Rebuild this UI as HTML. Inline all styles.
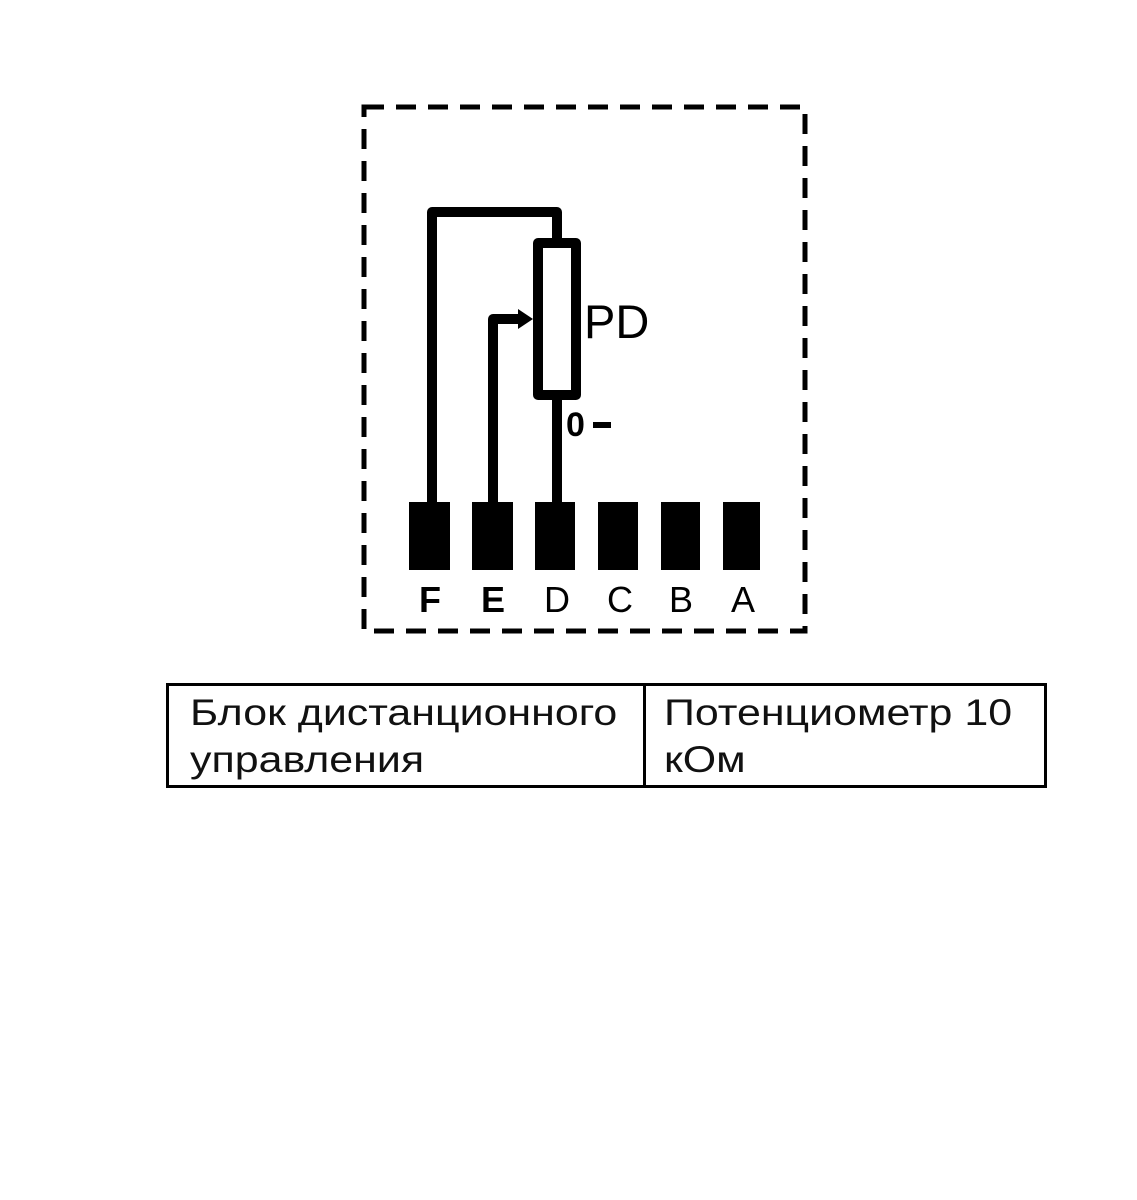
<!DOCTYPE html>
<html><head><meta charset="utf-8"><style>
html,body{margin:0;padding:0;background:#fff;}
body{width:1137px;height:1200px;position:relative;overflow:hidden;font-family:"Liberation Sans","DejaVu Sans",sans-serif;}
.t{position:absolute;font-size:37px;line-height:47px;color:#111;transform:scaleX(1.16);transform-origin:0 0;white-space:nowrap;}
</style></head><body>
<svg width="1137" height="1200" style="position:absolute;left:0;top:0">
<rect x="364" y="107" width="441" height="524" fill="none" stroke="#000" stroke-width="5" stroke-dasharray="20 12"/>
<g fill="none" stroke="#000" stroke-width="10" stroke-linejoin="round">
<polyline points="432,505 432,212 557,212 557,240"/>
<rect x="538" y="243" width="38" height="152"/>
<polyline points="557,395 557,505"/>
<polyline points="493,505 493,319 522,319"/>
</g>
<polygon points="518,309 533,319 518,329" fill="#000"/>
<g fill="#000">
<rect x="409" y="502" width="41" height="68"/>
<rect x="472" y="502" width="41" height="68"/>
<rect x="535" y="502" width="40" height="68"/>
<rect x="598" y="502" width="40" height="68"/>
<rect x="661" y="502" width="39" height="68"/>
<rect x="723" y="502" width="37" height="68"/>
</g>
<g font-family="Liberation Sans, sans-serif" fill="#000">
<text x="584" y="338" font-size="47">PD</text>
<text x="566" y="436" font-size="34" font-weight="bold">0</text>
<rect x="593" y="422" width="18" height="6"/>
<text x="430" y="612" font-size="36" font-weight="bold" text-anchor="middle">F</text>
<text x="493" y="612" font-size="36" font-weight="bold" text-anchor="middle">E</text>
<text x="557" y="612" font-size="36" text-anchor="middle">D</text>
<text x="620" y="612" font-size="36" text-anchor="middle">C</text>
<text x="681" y="612" font-size="36" text-anchor="middle">B</text>
<text x="743" y="612" font-size="36" text-anchor="middle">A</text>
</g>
<rect x="167.5" y="684.5" width="878" height="102" fill="none" stroke="#000" stroke-width="3"/>
<line x1="644.5" y1="684" x2="644.5" y2="787" stroke="#000" stroke-width="3"/>
</svg>
<div class="t" style="left:190px;top:689px;">Блок дистанционного<br>управления</div>
<div class="t" style="left:664px;top:689px;">Потенциометр 10<br>кОм</div>
</body></html>
